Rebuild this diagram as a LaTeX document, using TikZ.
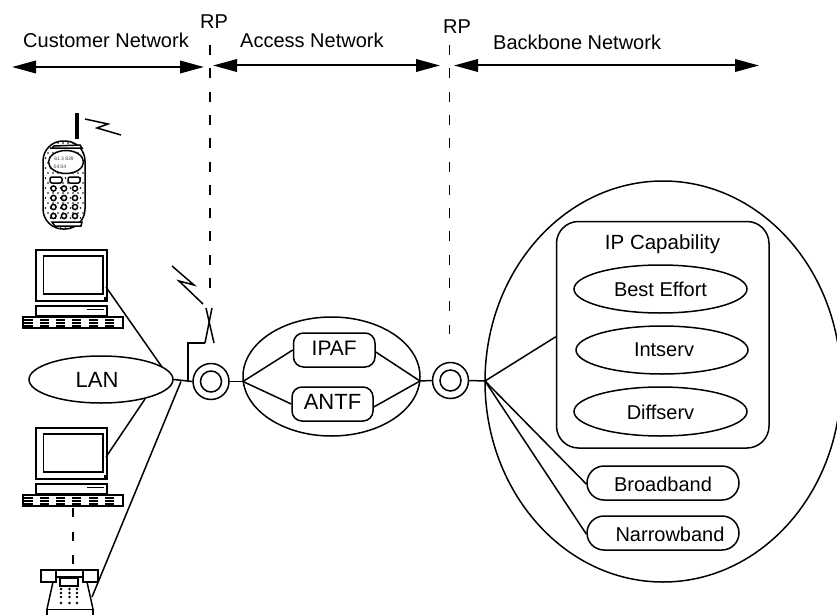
\documentclass[tikz,border=0pt]{standalone}
\usepackage{fontspec}
\setmainfont{Liberation Sans}
\usetikzlibrary{arrows.meta,shapes.geometric}
\tikzset{
  base/.style={line width=1.5pt,draw=black},
  txt/.style={font=\fontsize{20}{24}\selectfont,text height=15pt,text depth=0pt,inner sep=0pt},
  freetext/.style={font=\fontsize{20}{24}\selectfont,inner sep=0pt,anchor=base west},
  oval/.style={base,ellipse,inner sep=0pt,txt},
  rbox/.style={base,rectangle,inner sep=0pt,txt},
  ring/.style={base,circle,inner sep=0pt},
  span/.style={line width=2pt,{Triangle[length=24pt,width=12.5pt]}-{Triangle[length=24pt,width=12.5pt]}},
  rpline/.style={line width=1.5pt,dash pattern=on 10pt off 13.3pt},
  bolt/.style={line width=1.5pt,miter limit=10},
  wire/.style={line width=1.5pt}
}
\newcommand{\computer}[2]{%
  \begin{scope}[yshift=-#1pt]
    \node[base,rectangle,inner sep=0pt,minimum width=71pt,minimum height=51pt] (#2) at (71.5,275.5) {};
    \draw[base] (43.5,256) rectangle (103,294);
    \fill (103.5,297) rectangle (106,301);
    \draw[base] (36,306) rectangle (107,315.5);
    \draw[line width=1.1pt] (87,309.5) -- (104,309.5);
    \draw[base] (23,317) rectangle (123,328);
    \foreach \k in {24,40,56,72,89,105}{
      \draw[line width=1.1pt] (\k,320) -- ++(9,0) (\k,323) -- ++(9,0) (\k,326) -- ++(9,0);
    }
  \end{scope}}
\begin{document}
\begin{tikzpicture}[x=1pt,y=-1pt]
\useasboundingbox (0,0) rectangle (837,615);
\clip (0,0) rectangle (837,615);

% header
\node[freetext] (custlabel) at (23,48) {Customer Network};
\node[freetext] (acclabel) at (240,48) {Access Network};
\node[freetext] (bonelabel) at (493,50) {Backbone Network};
\node[freetext] (rpa) at (200,29) {RP};
\node[freetext] (rpb) at (443,34) {RP};
\coordinate (sa) at (12,67); \coordinate (sb) at (204,67);
\coordinate (sc) at (213,65.5); \coordinate (sd) at (440,65.5);
\coordinate (se) at (454,65.5); \coordinate (sf) at (759,65.5);
\draw[span] (sa) -- (sb);
\draw[span] (sc) -- (sd);
\draw[span] (se) -- (sf);
\coordinate (rpat) at (210,45); \coordinate (rpab) at (210,288);
\coordinate (rpbt) at (449.5,45); \coordinate (rpbb) at (449.5,334);
\draw[rpline] (rpat) -- (rpab);
\draw[rpline] (rpbt) -- (rpbb);

% mobile phone
\fill (75,113) rectangle (79,139);
\draw[bolt] (85,119) -- (108,124) -- (97,128) -- (121,135);
\begin{scope}
  \clip[rounded corners=20pt] (43,141) rectangle (85,229);
  \foreach \r in {0,...,17}{
    \foreach \c in {0,...,9}{
      \pgfmathsetmacro{\dx}{43+\c*5+mod(\r,2)*2.5}
      \pgfmathsetmacro{\dy}{143+\r*5}
      \fill (\dx,\dy) circle (0.9pt);
    }
  }
\end{scope}
\draw[base,rounded corners=20pt] (43,141) rectangle (85,229);
\draw[base,fill=white] (52,148) -- (54,146) -- (80,145) -- (82,148) -- cycle;
\draw[base,fill=white] (52,222) -- (82,222) -- (81,226) -- (55,226) -- cycle;
\draw[base,fill=white] (66,162) ellipse (17.5pt and 11.5pt);
\node[inner sep=0pt,text=black!75,font=\fontsize{5}{6}\selectfont] (ph1) at (64,159) {61 3 839};
\node[inner sep=0pt,text=black!75,font=\fontsize{5}{6}\selectfont] (ph2) at (60,167) {04:04};
\draw[base,fill=white,rounded corners=2pt] (50,177) rectangle (62,183);
\draw[base,fill=white,rounded corners=2pt] (68,177) rectangle (80,183);
\foreach \y in {188.5,198,207,216}{
  \foreach \x in {53.5,64,75}{
    \draw[base,fill=white] (\x,\y) circle (2.6pt);
  }
}

% computers
\computer{0}{pca}
\computer{178}{pcb}

% LAN and local wiring
\node[oval,minimum width=144pt,minimum height=47pt] (lan) at (101,379.5) {\hspace*{-8pt}\fontsize{22}{24}\selectfont LAN};
\node[ring,minimum size=36pt] (ca) at (211,381.5) {};
\node[ring,minimum size=21pt] (cai) at (211,381.5) {};
\coordinate (hub) at (181,381.5);
\coordinate (tap) at (188,381.5);
\coordinate (stub) at (188,343);
\coordinate (mast) at (205,343);
\coordinate (pcaout) at (106,287);
\coordinate (lanhit) at (162,367);
\coordinate (lanlow) at (145,399);
\coordinate (pcbout) at (106,457);
\coordinate (telout) at (92,597);
\draw[wire] (pcaout) -- (lanhit);
\draw[wire] (lanlow) -- (pcbout);
\draw[wire] (lan.east) -- (ca.west);
\draw[wire] (hub) -- (telout);
\draw[wire] (tap) -- (stub) -- (mast);
\coordinate (xa) at (212,308); \coordinate (xb) at (206,308); \coordinate (xc) at (214,343);
\draw[wire] (mast) -- (xa);
\draw[wire] (xb) -- (xc);
\draw[bolt] (172,266) -- (194,285) -- (179,281) -- (203,304);

% telephone
\draw[base] (41,570) rectangle (56,582);
\draw[base] (83,570) rectangle (98,582);
\draw[base] (56,570) rectangle (83,577);
\draw[base] (60,578) rectangle (78,586);
\draw[base] (53,582) -- (47,609) (87,582) -- (93,609);
\draw[base] (47,615.5) -- (47,609.5) -- (93,609.5) -- (93,615.5);
\foreach \y in {589,593,597,603}{
  \foreach \x in {61,69.5,77}{
    \fill (\x,\y) circle (1.4pt);
  }
}
\coordinate (pcbd) at (73,508); \coordinate (teld) at (73,565);
\draw[wire,dash pattern=on 9pt off 14.5pt] (pcbd) -- (teld);

% access network
\node[base,ellipse,inner sep=0pt,minimum width=177pt,minimum height=119pt] (acc) at (331.5,376.5) {};
\node[rbox,rounded corners=10pt,minimum width=81.5pt,minimum height=34pt,text height=11.5pt] (ipaf) at (334.25,350) {\fontsize{21}{24}\selectfont IPAF};
\node[rbox,rounded corners=10pt,minimum width=81pt,minimum height=34pt,text height=10.5pt] (antf) at (332.5,404) {\fontsize{22}{24}\selectfont ANTF};
\coordinate (accl) at (243,381.5);
\coordinate (accr) at (420,381);
\node[ring,minimum size=36pt] (cb) at (450.5,380.5) {};
\node[ring,minimum size=21pt] (cbi) at (450.5,380.5) {};
\draw[wire] (ca.east) -- (accl);
\draw[wire] (accl) -- (ipaf.west);
\draw[wire] (accl) -- (antf.west);
\draw[wire] (accr) -- ([yshift=-2pt]ipaf.east);
\draw[wire] (accr) -- ([yshift=-3pt]antf.east);
\draw[wire] (accr) -- (cb.west);

% backbone
\node[base,ellipse,inner sep=0pt,minimum width=356pt,minimum height=401pt] (bone) at (663,381.5) {};
\node[base,rectangle,rounded corners=22pt,inner sep=0pt,minimum width=212.5pt,minimum height=226.5pt] (ipcap) at (662.75,334.75) {};
\node[inner sep=0pt,font=\fontsize{20.5}{24}\selectfont,anchor=base] (iplabel) at (662.5,249) {IP Capability};
\node[oval,minimum width=173pt,minimum height=48pt] (be) at (660.5,289) {Best Effort};
\node[oval,minimum width=172pt,minimum height=48pt,text height=12pt] (is) at (662,350) {\hspace*{4pt}Intserv};
\node[oval,minimum width=173pt,minimum height=49pt] (ds) at (660.5,411.5) {Diffserv};
\node[rbox,rounded corners=17pt,minimum width=152pt,minimum height=34pt,text height=16pt] (bb) at (663,483) {Broadband};
\node[rbox,rounded corners=17pt,minimum width=152pt,minimum height=34pt,text height=16pt] (nb) at (663,533) {\hspace*{14pt}Narrowband};
\coordinate (bonel) at (485,381);
\draw[wire] (cb.east) -- (bonel);
\draw[wire] (bonel) -- ([yshift=-2pt]ipcap.west);
\draw[wire] (bonel) -- ([yshift=-1pt]bb.west);
\draw[wire] (bonel) -- ([yshift=-1pt]nb.west);
\end{tikzpicture}
\end{document}
